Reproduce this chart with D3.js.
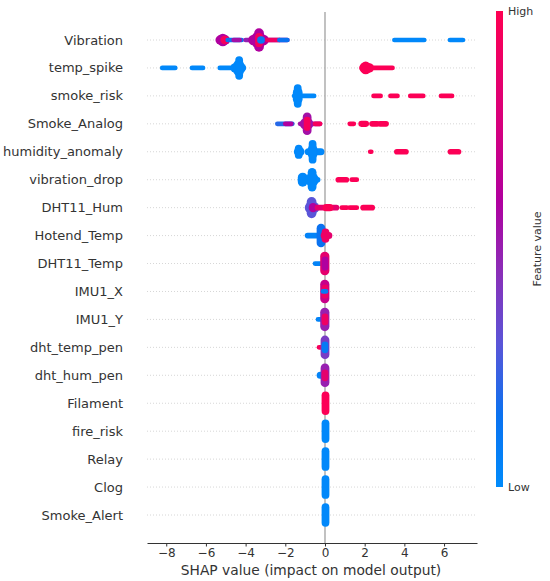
<!DOCTYPE html>
<html>
<head>
<meta charset="utf-8">
<script src="https://cdn.jsdelivr.net/npm/d3@7"></script>
<style>
  body { margin: 0; background: #fff; }
  text { font-family: "DejaVu Sans", sans-serif; fill: #333; }
</style>
</head>
<body>
<svg id="chart" width="550" height="581"></svg>
<script>
// features, top to bottom (sorted by mean |SHAP|)
const features = ["Vibration", "temp_spike", "smoke_risk", "Smoke_Analog", "humidity_anomaly",
  "vibration_drop", "DHT11_Hum", "Hotend_Temp", "DHT11_Temp", "IMU1_X", "IMU1_Y",
  "dht_temp_pen", "dht_hum_pen", "Filament", "fire_risk", "Relay", "Clog", "Smoke_Alert"];

const xTicks = [-8, -6, -4, -2, 0, 2, 4, 6];

// point runs: [shap from, shap to, stacked rows, feature value 0..1]
const vibration = [
  [-5.4, -4.9, 2, 0.6], [-5.3, -5.0, 2.7, 0.6], [-5.15, -4.95, 1.8, 0.95], [-4.9, -4.2, 1, 0.15],
  [-4.6, -4.3, 1, 0.55], [-4.0, -1.9, 1, 0.5], [-3.75, -2.95, 2.2, 0.6], [-3.6, -3.1, 3.6, 0.6],
  [-3.45, -3.2, 5, 0.6], [-3.4, -3.25, 3, 0.95], [-3.3, -3.15, 1.6, 0.1],
  [-2.9, -2.3, 1, 0.9], [-2.3, -1.9, 1, 0.15], [3.5, 5.0, 1, 0.02], [6.3, 6.95, 1, 0.02]];
const tempSpike = [
  [-8.2, -7.55, 1, 0.02], [-6.7, -6.15, 1, 0.02], [-5.3, -4.1, 1, 0.02], [-4.65, -4.1, 2, 0.02],
  [-4.5, -4.2, 3.5, 0.02], [-4.4, -4.25, 5, 0.02], [1.85, 3.4, 1, 0.98], [1.85, 2.35, 2, 0.98],
  [1.9, 2.2, 2.7, 0.98]];
const smokeRisk = [
  [-1.55, -0.55, 1, 0.02], [-1.5, -1.25, 3.5, 0.02], [-1.45, -1.3, 5, 0.02],
  [2.45, 2.8, 1, 0.98], [3.3, 3.65, 1, 0.98], [4.3, 4.95, 1, 0.98], [5.85, 6.4, 1, 0.98]];
const smokeAnalog = [
  [-2.4, -1.65, 1, 0.2], [-2.0, -1.7, 1, 0.6], [-1.25, -0.25, 1, 0.55], [-1.15, -0.7, 2.5, 0.55],
  [-1.0, -0.8, 4.8, 0.55], [-0.95, -0.85, 3, 0.95], [-0.5, -0.25, 1, 0.95],
  [1.25, 1.45, 1, 0.98], [1.8, 2.1, 1.3, 0.98], [2.35, 2.65, 1.2, 0.98], [2.75, 3.1, 1.2, 0.98]];
const humidityAnomaly = [
  [-1.45, -1.15, 2, 0.02], [-1.4, -1.25, 3, 0.02], [-0.9, -0.15, 1.5, 0.02], [-0.75, -0.5, 3, 0.02],
  [-0.7, -0.55, 5, 0.02],
  [2.28, 2.33, 1, 0.98], [3.6, 4.1, 1.2, 0.98], [6.3, 6.75, 1.2, 0.98]];
const vibrationDrop = [
  [-1.25, -0.35, 1.2, 0.02], [-1.25, -1.0, 3, 0.02], [-0.85, -0.45, 3, 0.02], [-0.75, -0.55, 5, 0.02],
  [0.65, 1.1, 1.2, 0.98], [1.35, 1.6, 1, 0.98]];
const dht11Hum = [
  [-0.9, -0.4, 2.5, 0.3], [-0.8, -0.55, 4.5, 0.3], [-0.7, -0.5, 2, 0.6],
  [-0.4, 0.6, 1.2, 0.85], [0.0, 0.3, 1.5, 0.98],
  [0.85, 1.1, 1, 0.98], [1.25, 1.6, 1, 0.98], [1.9, 2.4, 1.2, 0.98]];
const hotendTemp = [
  [-0.9, -0.15, 1.2, 0.05], [-0.3, -0.1, 5, 0.15], [-0.1, 0.25, 1.5, 0.85], [-0.05, 0.1, 3, 0.9]];
const dht11Temp = [
  [-0.5, -0.1, 1, 0.05], [-0.12, 0.1, 5, 0.85], [-0.05, 0.05, 3, 0.6]];
const imu1X = [
  [-0.12, 0.1, 5, 0.7], [-0.05, 0.05, 3, 0.9], [-0.1, 0.05, 1, 0.1]];
const imu1Y = [
  [-0.35, -0.1, 1, 0.05], [-0.12, 0.1, 5, 0.5], [-0.05, 0.05, 2.5, 0.9]];
const dhtTempPen = [
  [-0.3, -0.05, 1, 0.95], [-0.1, 0.1, 5, 0.4], [-0.05, 0.05, 2.5, 0.1]];
const dhtHumPen = [
  [-0.3, -0.05, 1.5, 0.05], [-0.1, 0.1, 5, 0.5], [-0.05, 0.05, 2.5, 0.85]];
const filament = [[-0.05, 0.1, 5, 0.98]];
const fireRisk = [[-0.05, 0.1, 5, 0.02]];
const relay = [[-0.05, 0.1, 5, 0.02]];
const clog = [[-0.05, 0.1, 5, 0.02]];
const smokeAlert = [[-0.05, 0.1, 5, 0.02]];

const runs = [vibration, tempSpike, smokeRisk, smokeAnalog, humidityAnomaly, vibrationDrop,
  dht11Hum, hotendTemp, dht11Temp, imu1X, imu1Y, dhtTempPen, dhtHumPen, filament,
  fireRisk, relay, clog, smokeAlert];

const svg = d3.select("#chart");
const margin = { left: 147, right: 477, top: 26, bottom: 543 };

const x = d3.scaleLinear().domain([-8.97, 7.66]).range([margin.left, margin.right]);
const y = d3.scalePoint().domain(features).range([40, 515]);

// shap red_blue colormap
const color = d3.scaleLinear()
  .domain([0, 0.15, 0.3, 0.45, 0.6, 0.75, 1])
  .range(["#008bfb", "#0a72f0", "#5a55d8", "#8a2fb8", "#b0009f", "#d4007f", "#ff0052"])
  .interpolate(d3.interpolateRgb);

// dotted row guides
svg.append("g").selectAll("line")
  .data(features)
  .join("line")
  .attr("x1", margin.left).attr("x2", margin.right)
  .attr("y1", d => y(d)).attr("y2", d => y(d))
  .attr("stroke", "#ccc").attr("stroke-width", 0.8)
  .attr("stroke-dasharray", "1,2");

// zero line
svg.append("line")
  .attr("x1", x(0)).attr("x2", x(0))
  .attr("y1", 12).attr("y2", margin.bottom)
  .attr("stroke", "#999").attr("stroke-width", 1.2);

// point runs as capsules
const rowPx = 4.7;
features.forEach((f, i) => {
  svg.append("g").selectAll("rect")
    .data(runs[i])
    .join("rect")
    .attr("x", d => x(d[0]) - 2.4)
    .attr("width", d => x(d[1]) - x(d[0]) + 4.8)
    .attr("y", d => y(f) - d[2] * rowPx / 2)
    .attr("height", d => d[2] * rowPx)
    .attr("rx", d => Math.min(x(d[1]) - x(d[0]) + 4.8, d[2] * rowPx) / 2)
    .attr("fill", d => color(d[3]));
});

// feature labels
svg.append("g").selectAll("text")
  .data(features)
  .join("text")
  .attr("x", 123)
  .attr("y", d => y(d))
  .attr("dy", "0.35em")
  .attr("text-anchor", "end")
  .style("font-size", "13px")
  .text(d => d);

// x axis
const xAxis = svg.append("g")
  .attr("transform", `translate(0,${margin.bottom})`)
  .call(d3.axisBottom(x).tickValues(xTicks).tickSize(3.5).tickPadding(2).tickSizeOuter(0));
xAxis.select(".domain").attr("stroke", "#333");
xAxis.selectAll(".tick line").attr("stroke", "#333");
xAxis.selectAll(".tick text").style("font-size", "12px").style("font-family", "DejaVu Sans").attr("fill", "#333");

svg.append("text")
  .attr("x", 311)
  .attr("y", 575)
  .attr("text-anchor", "middle")
  .style("font-size", "13.8px")
  .text("SHAP value (impact on model output)");

// colour bar
const defs = svg.append("defs");
const grad = defs.append("linearGradient")
  .attr("id", "cbar").attr("x1", 0).attr("x2", 0).attr("y1", 1).attr("y2", 0);
d3.range(0, 1.001, 0.05).forEach(t => {
  grad.append("stop").attr("offset", t).attr("stop-color", color(t));
});
const cbTop = 11, cbBottom = 487;
svg.append("rect")
  .attr("x", 496).attr("y", cbTop)
  .attr("width", 7).attr("height", cbBottom - cbTop)
  .attr("fill", "url(#cbar)");
svg.append("text").attr("x", 508).attr("y", cbTop + 4).style("font-size", "11px").text("High");
svg.append("text").attr("x", 508).attr("y", cbBottom + 4).style("font-size", "11px").text("Low");
svg.append("text")
  .attr("transform", `translate(541,${(cbTop + cbBottom) / 2}) rotate(-90)`)
  .attr("text-anchor", "middle")
  .style("font-size", "11px")
  .text("Feature value");
</script>
</body>
</html>
